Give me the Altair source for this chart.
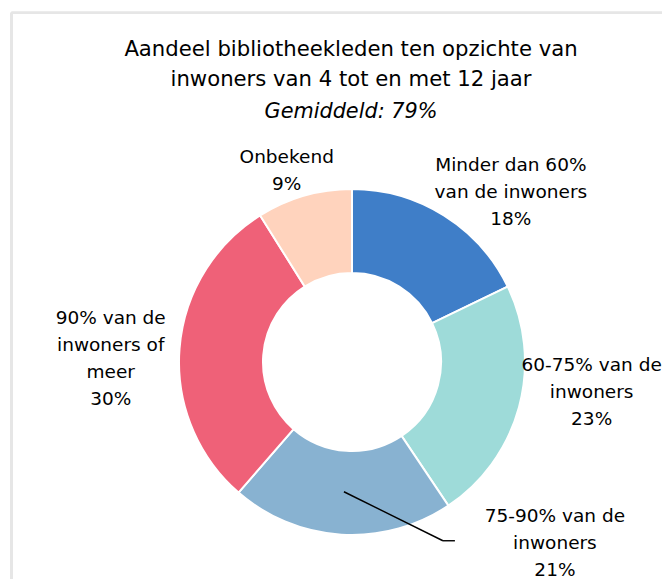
import altair as alt
import pandas as pd

categories = ["Minder dan 60%", "60-75%", "75-90%", "90% of meer", "Onbekend"]
values = [18, 23, 21, 30, 9]
labels = [
    "Minder dan 60%\nvan de inwoners\n18%",
    "60-75% van de\ninwoners\n23%",
    "75-90% van de\ninwoners\n21%",
    "90% van de\ninwoners of\nmeer\n30%",
    "Onbekend\n9%",
]
colors = ["#3F7EC8", "#9EDBD9", "#88B2D1", "#EF6178", "#FFD3BD"]

df = pd.DataFrame({
    "cat": categories,
    "value": values,
    "label": labels,
    "order": list(range(len(categories))),
})

W, H_TOTAL = 654, 571
PAD_TOP = 122
H = H_TOTAL - PAD_TOP
CX = 344
CY = 362 - 8 - PAD_TOP
FONT = "DejaVu Sans"
LH = 27

theta = alt.Theta("value:Q", stack=True)
order = alt.Order("order:Q")

arcs = alt.Chart(df).mark_arc(
    innerRadius=89, outerRadius=173, stroke="white", strokeWidth=2
).encode(
    theta=theta,
    order=order,
    color=alt.Color("cat:N", scale=alt.Scale(domain=categories, range=colors), legend=None),
    x=alt.value(CX),
    y=alt.value(CY),
)

# (radius, dx, dy, number of lines)
label_layout = {
    "Minder dan 60%": (205, 50, 4, 3),
    "60-75%": (240, 8, -33, 3),
    "75-90%": (130, 211, 51, 3),
    "90% of meer": (235, -7, 15, 4),
    "Onbekend": (200, -10, 1, 2),
}

text_layers = []
for cat, (r, dx, dy, n) in label_layout.items():
    t = alt.Chart(df).transform_calculate(
        t=f"datum.cat == '{cat}' ? datum.label : ''"
    ).mark_text(
        radius=r, dx=dx, dy=dy - (n - 1) * LH / 2, lineBreak="\n", lineHeight=LH,
        fontSize=18.5, font=FONT, color="#000000", align="center", baseline="middle"
    ).encode(
        theta=theta, order=order, text="t:N", x=alt.value(CX), y=alt.value(CY)
    )
    text_layers.append(t)

RM = 130
leader_base = alt.Chart(df).transform_window(
    cum="sum(value)", sort=[alt.SortField("order")], frame=[None, 0]
).transform_joinaggregate(total="sum(value)").transform_calculate(
    a="2*PI*(datum.cum - datum.value/2)/datum.total"
).transform_filter(alt.datum.cat == "75-90%").transform_calculate(
    lx1=f"{CX} + {RM}*sin(datum.a)",
    ly1=f"{CY} - {RM}*cos(datum.a)",
).transform_calculate(
    lx2="datum.lx1 + 99", ly2="datum.ly1 + 49"
).transform_calculate(
    lx3="datum.lx2 + 12"
)

leader1 = leader_base.mark_rule(color="#000000", strokeWidth=1.4).encode(
    x=alt.X("lx1:Q", scale=None, axis=None),
    y=alt.Y("ly1:Q", scale=None, axis=None),
    x2="lx2:Q", y2="ly2:Q",
)
leader2 = leader_base.mark_rule(color="#000000", strokeWidth=1.4).encode(
    x=alt.X("lx2:Q", scale=None, axis=None),
    y=alt.Y("ly2:Q", scale=None, axis=None),
    x2="lx3:Q", y2="ly2:Q",
)

frame_v = alt.Chart(df).mark_rule(color="#E6E6E6", strokeWidth=2).encode(
    x=alt.value(3.5), y=alt.value(12.7 - 8 - PAD_TOP), y2=alt.value(H)
)
frame_h = alt.Chart(df).mark_rule(color="#E6E6E6", strokeWidth=2).encode(
    x=alt.value(3.5), x2=alt.value(W), y=alt.value(12.7 - 8 - PAD_TOP)
)

chart = alt.layer(
    frame_v, frame_h, arcs, *text_layers, leader1, leader2
).properties(
    width=W, height=H,
    autosize=alt.AutoSizeParams(type="none"),
    padding={"left": 0, "top": PAD_TOP, "right": 0, "bottom": 0},
    title=alt.TitleParams(
        text=["Aandeel bibliotheekleden ten opzichte van", "inwoners van 4 tot en met 12 jaar"],
        subtitle="Gemiddeld: 79%",
        anchor="middle", dx=16, dy=114, offset=4,
        font=FONT, fontSize=21.2, fontWeight="normal", lineHeight=30, color="#000000",
        subtitleFont=FONT, subtitleFontSize=20.8, subtitleFontStyle="italic",
        subtitleFontWeight="normal",
        subtitleColor="#000000", subtitleLineHeight=30, subtitlePadding=12,
    ),
).configure_view(stroke=None)

chart.save("out.html", embed_options={"renderer": "svg", "actions": False})
